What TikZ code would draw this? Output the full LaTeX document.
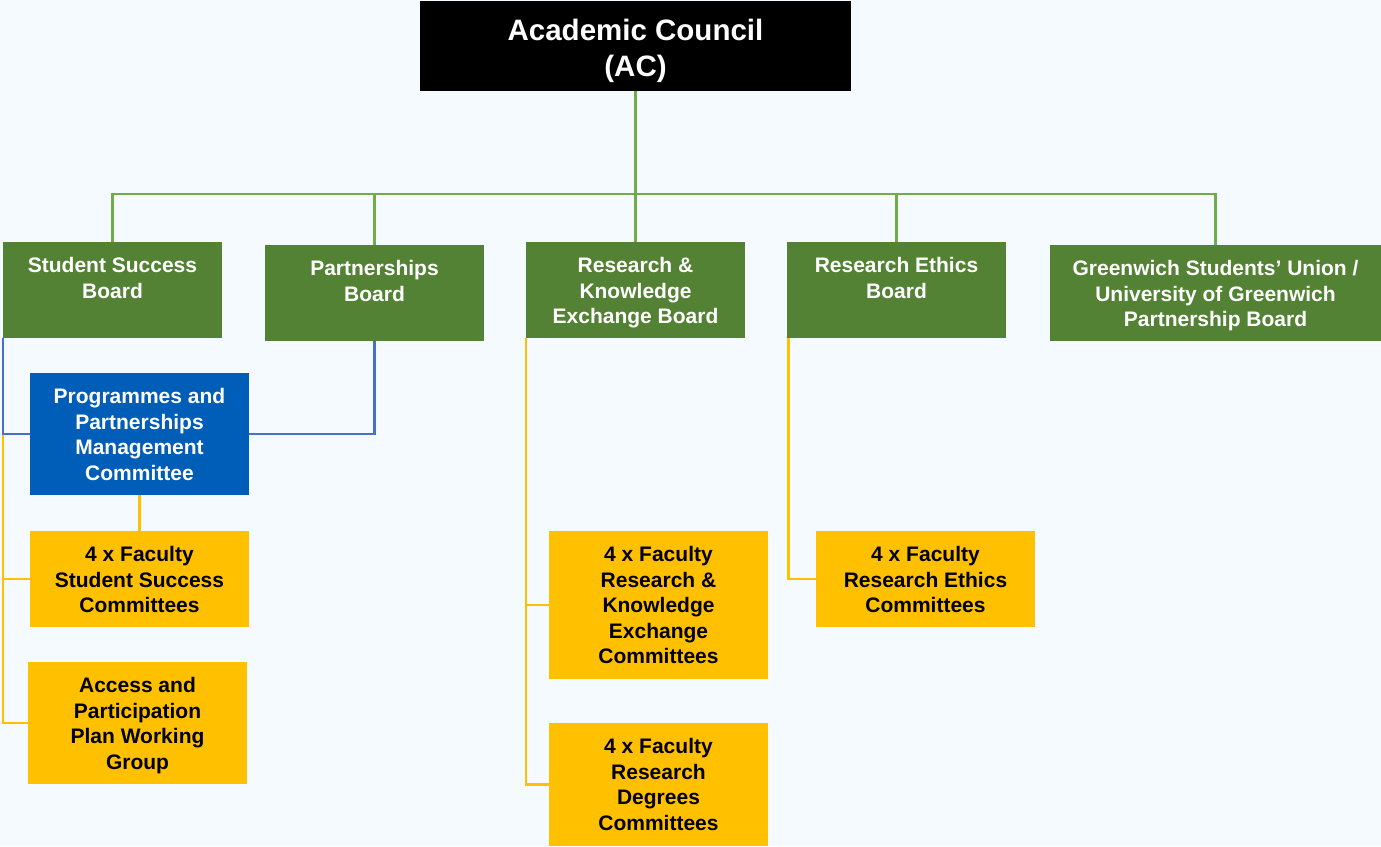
\documentclass[tikz,border=0pt]{standalone}
\usepackage{fontspec}
\setmainfont{Liberation Sans}
\definecolor{bgc}{HTML}{F5FAFE}
\definecolor{boardgreen}{HTML}{548235}
\definecolor{linegreen}{HTML}{70AD47}
\definecolor{boxyellow}{HTML}{FFC000}
\definecolor{boxblue}{HTML}{005EB8}
\definecolor{lineblue}{HTML}{4472C4}
\begin{document}
\begin{tikzpicture}[x=1pt,y=-1pt,
  box/.style={rectangle, inner sep=0pt, outer sep=0pt, minimum width=219pt},
  board/.style={box, fill=boardgreen, minimum height=96pt},
  yel/.style={box, fill=boxyellow},
  blu/.style={box, fill=boxblue},
  txt/.style={inner sep=0pt, anchor=north, align=center, font=\bfseries\fontsize{21}{25.5}\selectfont},
  wtxt/.style={txt, text=white},
  btxt/.style={txt, text=black},
  gline/.style={draw=linegreen, line width=2.5pt},
  yline/.style={draw=boxyellow, line width=2.5pt},
  bline/.style={draw=lineblue, line width=2.5pt}
]
\useasboundingbox (0,0) rectangle (1381,846);
\fill[bgc] (0,0) rectangle (1381,846);

% top
\node[box, fill=black, minimum width=431pt, minimum height=90pt] (AC) at (635.5,46) {};
\node[txt, text=white, font=\bfseries\fontsize{29.5}{36.5}\selectfont] (ACt) at (635.5,18.5) {Academic Council\\(AC)};

% boards
\node[board] (SSB) at (112.5,290) {};
\node[wtxt] (SSBt) at (SSB.north) [yshift=-15.5pt] {Student Success\\Board};
\node[board] (PB) at (374.5,293) {};
\node[wtxt] (PBt) at (PB.north) [yshift=-15.5pt] {Partnerships\\Board};
\node[board] (RKE) at (635.5,290) {};
\node[wtxt] (RKEt) at (RKE.north) [yshift=-15.5pt] {Research \&\\Knowledge\\Exchange Board};
\node[board] (REB) at (896.5,290) {};
\node[wtxt] (REBt) at (REB.north) [yshift=-15.5pt] {Research Ethics\\Board};
\node[board, minimum width=331pt] (GSU) at (1215.5,293) {};
\node[wtxt] (GSUt) at (GSU.north) [yshift=-15.5pt] {Greenwich Students’ Union /\\University of Greenwich\\Partnership Board};

% committees
\node[blu, minimum height=122pt] (PPMC) at (139.5,434) {};
\node[wtxt] (PPMCt) at (PPMC.north) [yshift=-15.5pt] {Programmes and\\Partnerships\\Management\\Committee};
\node[yel, minimum height=96pt] (FSSC) at (139.5,579) {};
\node[btxt] (FSSCt) at (FSSC.north) [yshift=-15.5pt] {4 x Faculty\\Student Success\\Committees};
\node[yel, minimum height=122pt] (APP) at (137.5,723) {};
\node[btxt] (APPt) at (APP.north) [yshift=-15.5pt] {Access and\\Participation\\Plan Working\\Group};
\node[yel, minimum height=148pt] (FRKE) at (658.5,605) {};
\node[btxt] (FRKEt) at (FRKE.north) [yshift=-15.5pt] {4 x Faculty\\Research \&\\Knowledge\\Exchange\\Committees};
\node[yel, minimum height=123pt] (FRDC) at (658.5,784.5) {};
\node[btxt] (FRDCt) at (FRDC.north) [yshift=-15.5pt] {4 x Faculty\\Research\\Degrees\\Committees};
\node[yel, minimum height=96pt] (FREC) at (925.5,579) {};
\node[btxt] (FRECt) at (FREC.north) [yshift=-15.5pt] {4 x Faculty\\Research Ethics\\Committees};

% green connectors
\coordinate (hub) at (635.5,194);
\draw[gline] (AC.south) -- (hub);
\draw[gline] (hub) -| (SSB.north);
\draw[gline] (hub) -| (PB.north);
\draw[gline] (hub) -- (RKE.north);
\draw[gline] (hub) -| (REB.north);
\draw[gline] (hub) -| (GSU.north);

% yellow connectors
\coordinate (j1) at (SSB.south west |- PPMC.west);
\draw[yline] (j1) |- (FSSC.west);
\draw[yline] (j1) |- (APP.west);
\draw[yline] (PPMC.south) -- (FSSC.north);
\draw[yline] (RKE.south west) |- (FRKE.west);
\draw[yline] (RKE.south west) |- (FRDC.west);
\draw[yline] ([xshift=1.5pt]REB.south west) |- (FREC.west);

% blue connectors
\draw[bline] (SSB.south west) |- (PPMC.west);
\draw[bline] (PB.south) |- (PPMC.east);
\end{tikzpicture}
\end{document}
